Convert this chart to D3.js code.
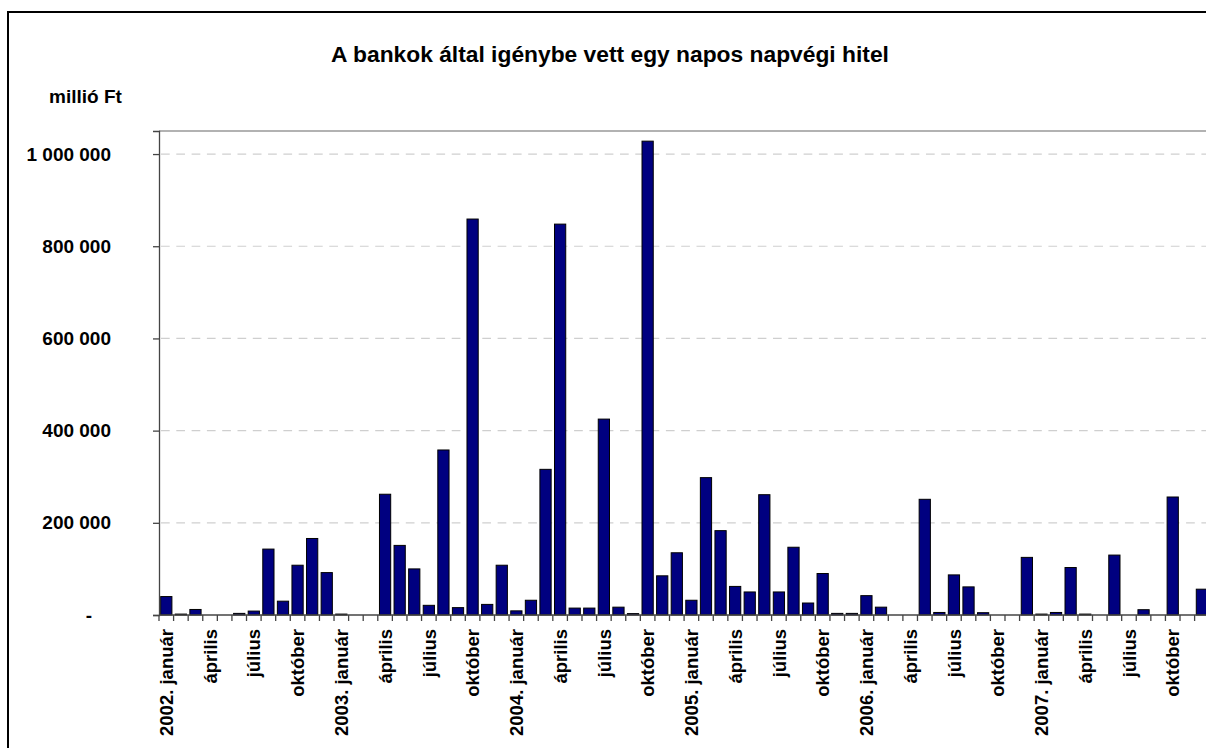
<!DOCTYPE html>
<html>
<head>
<meta charset="utf-8">
<script src="https://cdn.jsdelivr.net/npm/d3@7"></script>
<style>
  body { margin: 0; background: #fff; }
  svg { display: block; font-family: "Liberation Sans", Arial, sans-serif; }
</style>
</head>
<body>
<div id="chart"></div>
<script>
// data (millió Ft), monthly 2002-2007
var years = [2002, 2003, 2004, 2005, 2006, 2007];
var monthNames = ["január", "február", "március", "április", "május", "június",
                  "július", "augusztus", "szeptember", "október", "november", "december"];
var values2002 = [40000, 2000, 12000, 0, 0, 3500, 8500, 143000, 30000, 108000, 166000, 92000];
var values2003 = [2000, 0, 0, 262000, 151000, 100000, 21000, 358000, 16000, 859000, 23000, 108000];
var values2004 = [9000, 32000, 316000, 848000, 15000, 15000, 425000, 17000, 3000, 1028000, 85000, 135000];
var values2005 = [32000, 298000, 183000, 62000, 50000, 261000, 50000, 147000, 26000, 90000, 3500, 3500];
var values2006 = [42000, 17000, 0, 0, 251000, 5500, 87000, 61000, 5000, 0, 0, 125000];
var values2007 = [2000, 5500, 103000, 2000, 0, 130000, 0, 11500, 0, 256000, 0, 56000];
var yTicks = [0, 200000, 400000, 600000, 800000, 1000000];
var yMax = 1050000;

var title = "A bankok által igénybe vett egy napos napvégi hitel";
var unitLabel = "millió Ft";

var allValues = [values2002, values2003, values2004, values2005, values2006, values2007];
var data = [];
years.forEach(function(yr, i) {
  allValues[i].forEach(function(v, m) {
    data.push({key: yr + "-" + m, year: yr, month: m, value: v});
  });
});

var W = 1206, H = 748;
var plotLeft = 159, plotTop = 131, plotBottom = 615;
var step = 14.586;
var plotRight = plotLeft + step * data.length;

var svg = d3.select("#chart").append("svg")
  .attr("width", W)
  .attr("height", H);

// outer chart border (runs off the right / bottom edge)
svg.append("rect")
  .attr("x", 8).attr("y", 12)
  .attr("width", 1220).attr("height", 760)
  .attr("fill", "none")
  .attr("stroke", "#000")
  .attr("stroke-width", 2);

svg.append("text")
  .attr("x", 610).attr("y", 62)
  .attr("text-anchor", "middle")
  .attr("font-size", "22.8px")
  .attr("font-weight", "bold")
  .text(title);

svg.append("text")
  .attr("x", 49).attr("y", 103)
  .attr("font-size", "19px")
  .attr("font-weight", "bold")
  .text(unitLabel);

var keys = data.map(function(d) { return d.key; });

var xCat = d3.scaleBand().domain(keys).range([plotLeft, plotRight]);
var xBar = d3.scaleBand().domain(keys).range([plotLeft, plotRight])
  .paddingInner(0.23).paddingOuter(0.115);
var y = d3.scaleLinear().domain([0, yMax]).range([plotBottom, plotTop]);

var huLocale = d3.formatLocale({decimal: ",", thousands: " ", grouping: [3], currency: ["", ""]});
var fmt = huLocale.format(",");

// grid lines
svg.append("g")
  .selectAll("line")
  .data(yTicks.filter(function(t) { return t > 0; }))
  .enter().append("line")
  .attr("x1", plotLeft).attr("x2", plotRight)
  .attr("y1", function(d) { return y(d); })
  .attr("y2", function(d) { return y(d); })
  .attr("stroke", "#cfcfcf")
  .attr("stroke-width", 1.2)
  .attr("stroke-dasharray", "8.7,6.6")
  .attr("stroke-dashoffset", -2);

// plot area top border
svg.append("line")
  .attr("x1", plotLeft).attr("x2", plotRight)
  .attr("y1", plotTop).attr("y2", plotTop)
  .attr("stroke", "#999")
  .attr("stroke-width", 1.5);

// bars
svg.append("g")
  .selectAll("rect")
  .data(data)
  .enter().append("rect")
  .attr("x", function(d) { return xBar(d.key); })
  .attr("y", function(d) { return y(d.value); })
  .attr("width", xBar.bandwidth())
  .attr("height", function(d) { return y(0) - y(d.value); })
  .attr("fill", "#000080")
  .attr("stroke", "#000")
  .attr("stroke-width", 1);

// y axis
var yAxis = svg.append("g")
  .attr("transform", "translate(" + plotLeft + ",0)")
  .call(d3.axisLeft(y).tickValues(yTicks).tickSize(6).tickPadding(48)
    .tickFormat(function(d) { return d === 0 ? "-" : fmt(d); }));
yAxis.select(".domain").attr("stroke", "#444").attr("stroke-width", 1.3);
yAxis.selectAll(".tick line").attr("stroke", "#444").attr("stroke-width", 1.3);
yAxis.selectAll(".tick text")
  .attr("x", function(d) { return d === 0 ? -67 : -48; })
  .attr("fill", "#000")
  .attr("font-size", "19px")
  .attr("font-weight", "bold")
  .attr("font-family", "Liberation Sans, Arial, sans-serif");

// category boundary ticks
svg.append("g")
  .selectAll("line")
  .data(keys.concat(["end"]))
  .enter().append("line")
  .attr("x1", function(d) { return d === "end" ? plotRight : xCat(d); })
  .attr("x2", function(d) { return d === "end" ? plotRight : xCat(d); })
  .attr("y1", plotBottom).attr("y2", plotBottom + 6)
  .attr("stroke", "#444")
  .attr("stroke-width", 1.3);

// baseline
svg.append("line")
  .attr("x1", plotLeft).attr("x2", plotRight)
  .attr("y1", plotBottom).attr("y2", plotBottom)
  .attr("stroke", "#444")
  .attr("stroke-width", 1.3);

// month labels every quarter
var xAxis = svg.append("g")
  .attr("transform", "translate(0," + plotBottom + ")")
  .call(d3.axisBottom(xCat)
    .tickValues(data.filter(function(d) { return d.month % 3 === 0; }).map(function(d) { return d.key; }))
    .tickSize(0)
    .tickFormat(function(k) {
      var d = data[keys.indexOf(k)];
      return d.month === 0 ? d.year + ". " + monthNames[0] : monthNames[d.month];
    }));
xAxis.select(".domain").remove();
xAxis.selectAll(".tick text")
  .attr("transform", "rotate(-90)")
  .attr("x", -14)
  .attr("y", 0)
  .attr("dy", "0.36em")
  .attr("text-anchor", "end")
  .attr("fill", "#000")
  .attr("font-size", "18.5px")
  .attr("font-weight", "bold")
  .attr("font-family", "Liberation Sans, Arial, sans-serif");
</script>
</body>
</html>
